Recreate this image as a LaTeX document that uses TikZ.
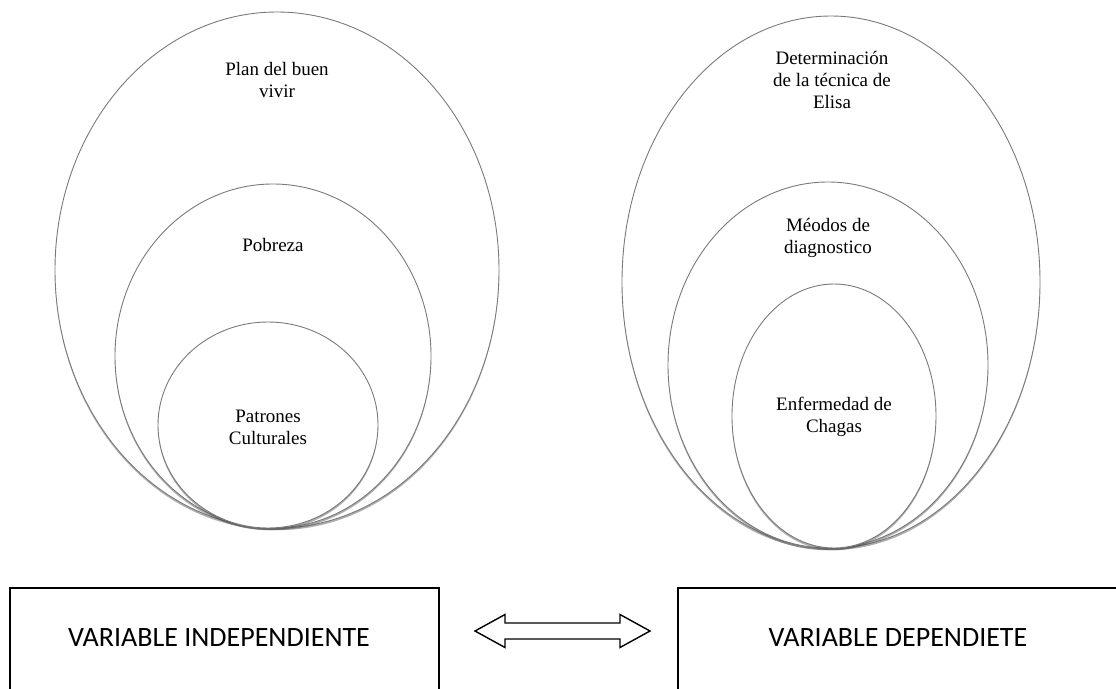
\documentclass[tikz,border=0pt]{standalone}
\usepackage{fontspec}
\setmainfont{Liberation Serif}
\newfontfamily\boxfont{Carlito}
\usepackage{xcolor}
\usepackage{tikz}
\usetikzlibrary{shadows}
\definecolor{ring}{HTML}{7A7A7A}
\definecolor{ink}{HTML}{000000}
\tikzset{
  ringline/.style={draw=ring, line width=0.9pt, fill=white,
    drop shadow={shadow xshift=0pt, shadow yshift=-2.2pt, opacity=0.45, fill=black!70}},
  lab/.style={text=ink, align=center, font=\fontsize{19}{22}\selectfont},
  varbox/.style={draw=ink, line width=1.5pt, inner sep=0pt},
  vartxt/.style={text=ink, font=\boxfont\fontsize{28}{32}\selectfont},
  bigarrow/.style={draw=ink, line width=1.4pt, line join=miter, fill=white}
}
\begin{document}
\begin{tikzpicture}[x=1pt, y=-1pt]
  \useasboundingbox (0,0) rectangle (1116,688);
  % left group
  \draw[ringline] (277,270) ellipse (222 and 258);
  \draw[ringline] (273,356) ellipse (158 and 172);
  \draw[ringline] (268,425) ellipse (110 and 103);
  \node[lab] (plan) at (277,80) {Plan del buen\\vivir};
  \node[lab] (pob) at (273,245) {Pobreza};
  \node[lab] (pat) at (268,427) {Patrones\\Culturales};
  % right group
  \draw[ringline] (831,282) ellipse (209 and 266);
  \draw[ringline] (828,365) ellipse (160 and 183);
  \draw[ringline] (834,416) ellipse (102 and 132);
  \node[lab] (elisa) at (832,80) {Determinación\\de la técnica de\\Elisa};
  \node[lab] (met) at (828,238) {Méodos de\\diagnostico};
  \node[lab] (chagas) at (834,417) {Enfermedad de\\Chagas};
  % boxes
  \begin{scope}
    \clip (0,0) rectangle (1116,688);
    \node[varbox, minimum width=429pt, minimum height=120pt] (indepbox) at (224.5,648) {};
    \node[varbox, minimum width=460pt, minimum height=120pt] (depbox) at (908,648) {};
  \end{scope}
  \node[vartxt] (indep) at (219,638) {VARIABLE INDEPENDIENTE};
  \node[vartxt] (dep) at (898,638) {VARIABLE DEPENDIETE};
  % double arrow
  \coordinate (tipL) at (475,631);
  \coordinate (tipR) at (650,631);
  \draw[bigarrow] (tipL) -- ++(30,-16.5) -- ++(0,8.5) -- (620,623) -- ++(0,-8.5)
    -- (tipR) -- (620,647.5) -- ++(0,-8.5) -- (505,639) -- ++(0,8.5) -- cycle;
\end{tikzpicture}
\end{document}
